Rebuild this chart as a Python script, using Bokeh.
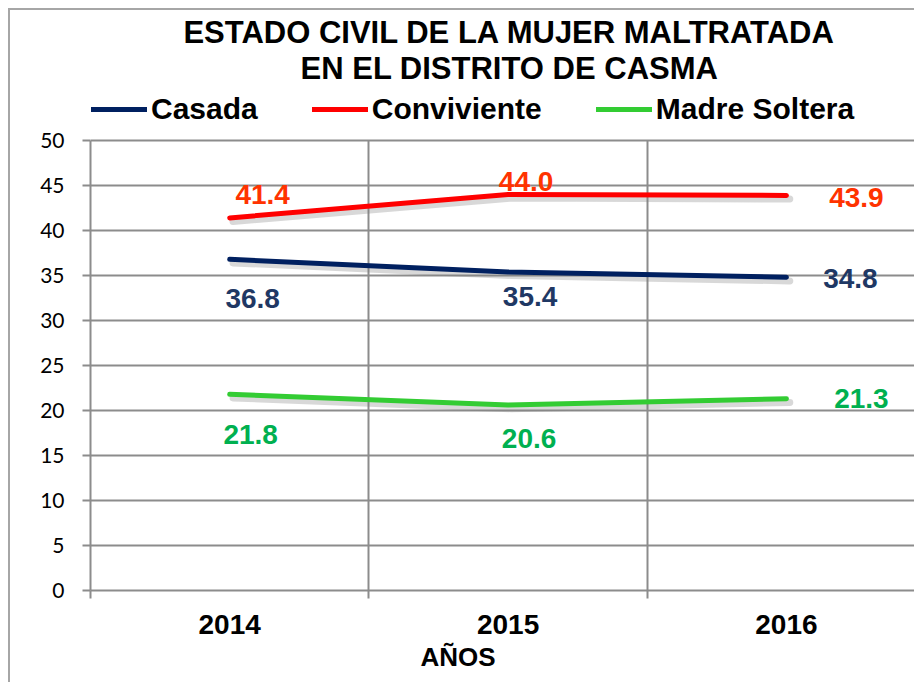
from bokeh.plotting import figure
from bokeh.models import (Range1d, FixedTicker, Legend, LegendItem, Title, Label,
                          ColumnDataSource, LinearAxis)
from bokeh.transform import dodge
from bokeh.core.properties import value
from bokeh.embed import file_html
from bokeh.resources import INLINE

# ---- data ----
years = ["2014", "2015", "2016"]
casada = [36.8, 35.4, 34.8]
conviviente = [41.4, 44.0, 43.9]
madre = [21.8, 20.6, 21.3]
y_ticks = list(range(0, 55, 5))
title_lines = ["ESTADO CIVIL DE LA MUJER MALTRATADA", "EN EL DISTRITO DE CASMA"]
x_title = "AÑOS"

xs = [i + 0.5 for i in range(len(years))]

BOLD = value("Liberation Sans")
GRID = "#8c8c8c"
FRAME_H = 580          # frame reaches the top of the chart box
PLOT_H = 450           # pixel height of the 0..50 value band

p = figure(frame_width=824, frame_height=FRAME_H, output_backend="svg", toolbar_location=None,
           x_range=Range1d(0, 2.96), y_range=Range1d(0, y_ticks[-1] * FRAME_H / PLOT_H),
           x_axis_location=None, y_axis_location=None,
           min_border_left=80, min_border_right=0,
           min_border_top=0, min_border_bottom=92)
p.outline_line_color = None
p.background_fill_color = "white"
p.border_fill_color = "white"
p.styles = {"margin-left": "8px", "margin-top": "8px",
            "border-left": "2px solid #a6a6a6", "border-top": "2px solid #a6a6a6"}

# y axis
yaxis = LinearAxis(ticker=FixedTicker(ticks=y_ticks), bounds=(y_ticks[0], y_ticks[-1]))
yaxis.axis_line_color = GRID
yaxis.axis_line_width = 2
yaxis.major_tick_line_color = GRID
yaxis.major_tick_line_width = 2
yaxis.major_tick_out = 8
yaxis.major_tick_in = 0
yaxis.minor_tick_line_color = None
yaxis.major_label_text_font = "Lato"
yaxis.major_label_text_font_size = "21px"
yaxis.major_label_text_color = "black"
yaxis.major_label_standoff = 18
p.add_layout(yaxis, "left")

# x axis
xaxis = LinearAxis(ticker=FixedTicker(ticks=xs, minor_ticks=list(range(len(years) + 1))))
xaxis.major_label_overrides = {x: y for x, y in zip(xs, years)}
xaxis.axis_line_color = GRID
xaxis.axis_line_width = 2
xaxis.major_tick_line_color = None
xaxis.major_tick_out = 0
xaxis.major_tick_in = 0
xaxis.minor_tick_line_color = GRID
xaxis.minor_tick_line_width = 2
xaxis.minor_tick_out = 8
xaxis.minor_tick_in = 0
xaxis.major_label_text_font = "Liberation Sans"
xaxis.major_label_text_font_style = "bold"
xaxis.major_label_text_font_size = "28px"
xaxis.major_label_text_color = "black"
xaxis.major_label_standoff = 16
p.add_layout(xaxis, "below")

p.add_layout(Title(text=x_title, align="left", offset=330, standoff=7,
                   text_font="Liberation Sans", text_font_style="bold",
                   text_font_size="26px", text_color="black"), "below")

p.xgrid.ticker = FixedTicker(ticks=list(range(len(years) + 1)))
p.xgrid.cross_bounds = (y_ticks[0], y_ticks[-1])
p.ygrid.ticker = FixedTicker(ticks=y_ticks)
for g in (p.xgrid, p.ygrid):
    g.grid_line_color = GRID
    g.grid_line_width = 2

# lines
series = [("Casada", casada, "#002060", "#1F3864"),
          ("Conviviente", conviviente, "#FF0000", "#FF3300"),
          ("Madre Soltera", madre, "#33CC33", "#00B050")]
# label offsets (screen px, style only)
label_dx = {"Casada": [23, 22, 64], "Conviviente": [33, 18, 70], "Madre Soltera": [21, 21, 75]}
label_dy = {"Casada": [39, 25, 1], "Conviviente": [-23, -13, 2], "Madre Soltera": [40, 33, 0]}

items = []
for name, vals, lc, tc in series:
    src = ColumnDataSource(dict(x=xs, y=vals, t=["%.1f" % v for v in vals],
                                dx=label_dx[name], dy=label_dy[name]))
    # soft drop shadow
    p.line(dodge("x", 0.012), dodge("y", -0.4), source=src, line_color="#7f7f7f",
           line_alpha=0.3, line_width=7, line_cap="round", line_join="round")
    r = p.line("x", "y", source=src, line_color=lc, line_width=5, line_cap="round",
               line_join="round")
    p.text("x", "y", text="t", source=src, x_offset="dx", y_offset="dy",
           text_color=tc, text_font=BOLD, text_font_style="bold",
           text_font_size="28px", text_align="center", text_baseline="middle")
    items.append(LegendItem(label=name, renderers=[r]))

legend = Legend(items=items, orientation="horizontal", location=(1, 464))
legend.border_line_color = None
legend.background_fill_alpha = 0
legend.padding = 0
legend.margin = 0
legend.spacing = 54
legend.label_standoff = 4
legend.glyph_width = 56
legend.glyph_height = 20
legend.label_text_font = "Liberation Sans"
legend.label_text_font_style = "bold"
legend.label_text_font_size = "30px"
legend.label_text_color = "black"
p.add_layout(legend)

for txt, ypos in zip(title_lines, [558, 522]):
    p.add_layout(Label(x=419, y=ypos, x_units="screen", y_units="screen", text=txt,
                       text_font="Liberation Sans", text_font_style="bold",
                       text_font_size="31px", text_align="center",
                       text_baseline="middle", text_color="black"))

open("out.html", "w").write(file_html(p, INLINE))
